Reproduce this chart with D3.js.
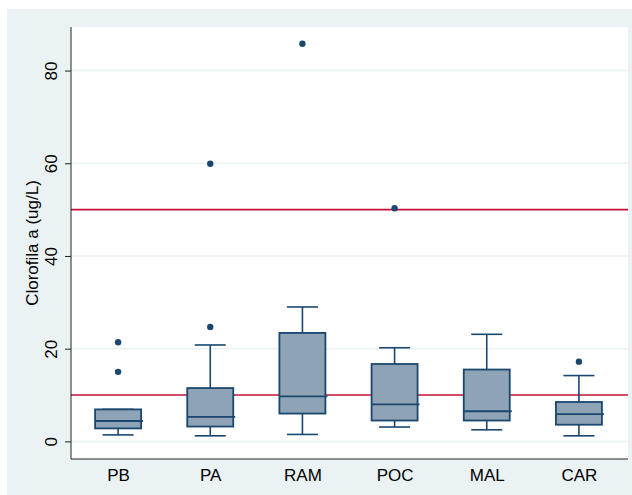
<!DOCTYPE html>
<html>
<head>
<meta charset="utf-8">
<script src="https://cdn.jsdelivr.net/npm/d3@7/dist/d3.min.js"></script>
<style>
  html, body { margin: 0; padding: 0; background: #ffffff; }
  svg { display: block; }
  text { font-family: "Liberation Sans", Arial, sans-serif; fill: #000; }
</style>
</head>
<body>
<svg id="chart" width="632" height="495"></svg>
<script>
// Chlorophyll-a concentration by site: box summaries and outside values
const categories  = ["PB", "PA", "RAM", "POC", "MAL", "CAR"];
const whiskerLow  = [1.4, 1.2, 1.5, 3.1, 2.5, 1.2];
const q1          = [2.8, 3.2, 6.0, 4.5, 4.5, 3.6];
const median      = [4.4, 5.3, 9.7, 8.0, 6.5, 5.9];
const q3          = [6.9, 11.5, 23.4, 16.7, 15.5, 8.5];
const whiskerHigh = [6.9, 20.8, 29.0, 20.2, 23.1, 14.2];
const outliers    = [[21.4, 15.0], [59.9, 24.7], [85.8], [50.3], [], [17.2]];
const refLines    = [10, 50];
const yTicks      = [0, 20, 40, 60, 80];
const yTitle      = "Clorofila a (ug/L)";

const boxes = categories.map((c, i) => ({
  cat: c, lo: whiskerLow[i], q1: q1[i], med: median[i], q3: q3[i],
  hi: whiskerHigh[i], out: outliers[i]
}));

const svg = d3.select("#chart");
const plot = { left: 71, right: 628, top: 27, bottom: 459 };

const navy = "#1a476f";
const boxFill = "#8ea3b6";
const bg = "#eaf2f3";

// graph region
svg.append("rect").attr("x", 7).attr("y", 9).attr("width", 625).attr("height", 486).attr("fill", bg);
// plot region
svg.append("rect").attr("x", plot.left).attr("y", plot.top)
  .attr("width", plot.right - plot.left).attr("height", plot.bottom - plot.top).attr("fill", "#ffffff");

const y = d3.scaleLinear().domain([-3.8, 89.4]).range([plot.bottom, plot.top]);
const x = d3.scalePoint().domain(categories).range([72, 625]).padding(0.5);

// grid lines
svg.append("g").selectAll("line").data(yTicks).join("line")
  .attr("x1", plot.left).attr("x2", plot.right)
  .attr("y1", d => y(d)).attr("y2", d => y(d))
  .attr("stroke", bg).attr("stroke-width", 1.5);

// reference lines
svg.append("g").selectAll("line").data(refLines).join("line")
  .attr("x1", plot.left).attr("x2", plot.right)
  .attr("y1", d => y(d)).attr("y2", d => y(d))
  .attr("stroke", "#c4103a").attr("stroke-width", 1.6);

const boxW = 46, capW = 31;
const g = svg.append("g").selectAll("g").data(boxes).join("g");

// whiskers
g.append("line").attr("x1", d => x(d.cat)).attr("x2", d => x(d.cat))
  .attr("y1", d => y(d.q3)).attr("y2", d => y(d.hi))
  .attr("stroke", navy).attr("stroke-width", 1.6);
g.append("line").attr("x1", d => x(d.cat)).attr("x2", d => x(d.cat))
  .attr("y1", d => y(d.q1)).attr("y2", d => y(d.lo))
  .attr("stroke", navy).attr("stroke-width", 1.6);
// caps
g.append("line").attr("x1", d => x(d.cat) - capW / 2).attr("x2", d => x(d.cat) + capW / 2)
  .attr("y1", d => y(d.hi)).attr("y2", d => y(d.hi))
  .attr("stroke", navy).attr("stroke-width", 1.6);
g.append("line").attr("x1", d => x(d.cat) - capW / 2).attr("x2", d => x(d.cat) + capW / 2)
  .attr("y1", d => y(d.lo)).attr("y2", d => y(d.lo))
  .attr("stroke", navy).attr("stroke-width", 1.6);
// boxes
g.append("rect")
  .attr("x", d => x(d.cat) - boxW / 2).attr("width", boxW)
  .attr("y", d => y(d.q3)).attr("height", d => y(d.q1) - y(d.q3))
  .attr("fill", boxFill).attr("stroke", navy).attr("stroke-width", 1.8);
// medians
g.append("line").attr("x1", d => x(d.cat) - boxW / 2).attr("x2", d => x(d.cat) + boxW / 2 + 2)
  .attr("y1", d => y(d.med)).attr("y2", d => y(d.med))
  .attr("stroke", navy).attr("stroke-width", 1.8);
// outside values
g.selectAll("circle").data(d => d.out.map(v => ({ cat: d.cat, v }))).join("circle")
  .attr("cx", d => x(d.cat)).attr("cy", d => y(d.v)).attr("r", 3.2)
  .attr("fill", navy);

// y axis
const yAxis = svg.append("g").attr("transform", `translate(${plot.left},0)`)
  .call(d3.axisLeft(y).tickValues(yTicks).tickSize(6).tickPadding(4).tickSizeOuter(0));
yAxis.select(".domain").attr("stroke", "#222").attr("d", `M0,${plot.top}V${plot.bottom}`);
yAxis.selectAll(".tick line").attr("stroke", "#222");
yAxis.selectAll(".tick text")
  .attr("font-size", 17).attr("fill", "#000")
  .attr("text-anchor", "middle").attr("x", 0).attr("dy", 0)
  .attr("transform", "translate(-14.5,0) rotate(-90)")
  .attr("y", 0);

// x axis
const xAxis = svg.append("g").attr("transform", `translate(0,${plot.bottom})`)
  .call(d3.axisBottom(x).tickSize(0).tickPadding(10));
xAxis.select(".domain").attr("stroke", "#222").attr("d", `M${plot.left},0H${plot.right}`);
xAxis.selectAll(".tick text").attr("font-size", 17).attr("fill", "#000").attr("dy", "0.71em");

// axis title
svg.append("text")
  .attr("transform", `translate(38,${(plot.top + plot.bottom) / 2}) rotate(-90)`)
  .attr("text-anchor", "middle")
  .attr("font-size", 17)
  .text(yTitle);
</script>
</body>
</html>
